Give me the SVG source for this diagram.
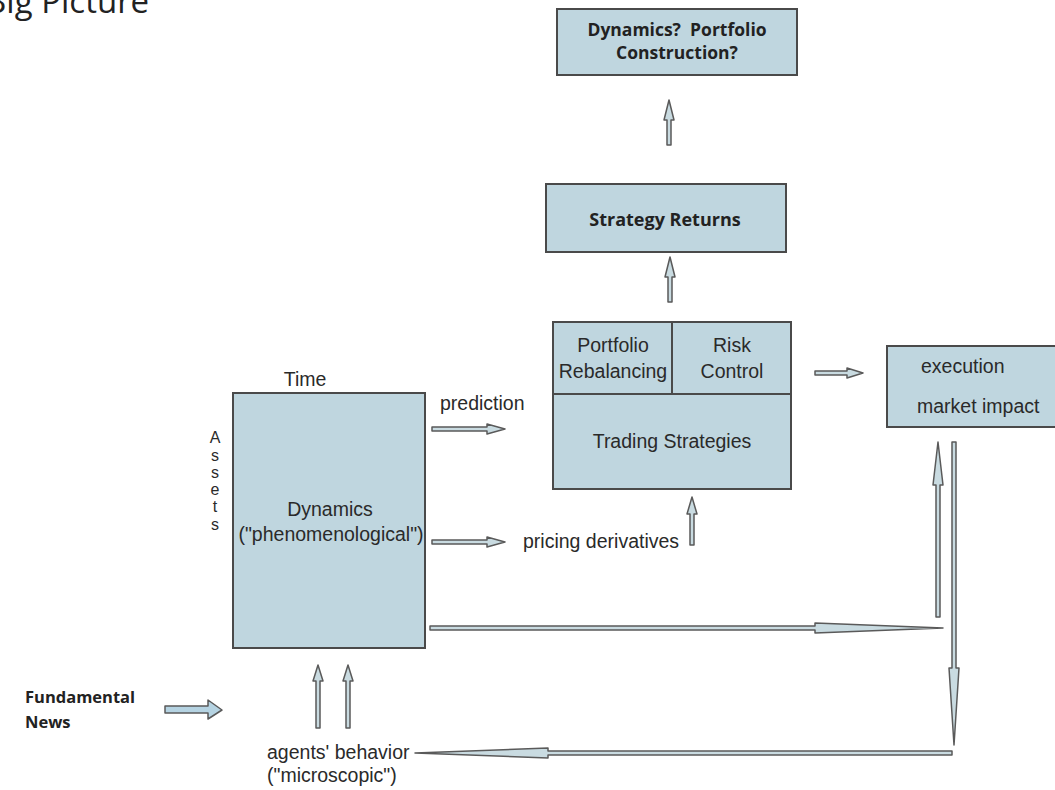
<svg xmlns="http://www.w3.org/2000/svg" width="1055" height="790" viewBox="0 0 1055 790">
<style>
.box{fill:#bfd6df;stroke:#4a4a4a;stroke-width:2}
.arr{fill:#c9dbe1;stroke:#5a5a5a;stroke-width:1.5;stroke-linejoin:round}
.bold{font-family:"Open Sans","Liberation Sans",sans-serif;font-weight:bold;fill:#222}
.t{font-family:"Liberation Sans",Arial,sans-serif;fill:#2a2a2a;font-size:19.5px}
.v{font-family:"Liberation Sans",Arial,sans-serif;fill:#2a2a2a;font-size:16px}
</style>
<rect width="1055" height="790" fill="#fff"/>
<text x="-15" y="13" style="font-family:'Open Sans','Liberation Sans',sans-serif;font-size:33px;fill:#222">Big Picture</text>

<g id="node-dyn-portfolio">
<rect class="box" x="557" y="9" width="240" height="66"/>
<text class="bold" x="677" y="36" font-size="17.5" text-anchor="middle" xml:space="preserve">Dynamics?  Portfolio</text>
<text class="bold" x="677" y="59" font-size="17.5" text-anchor="middle">Construction?</text>
</g>

<g id="node-strategy-returns">
<rect class="box" x="546" y="184" width="240" height="68"/>
<text class="bold" x="665" y="226" font-size="18" text-anchor="middle">Strategy Returns</text>
</g>

<g id="node-trading">
<rect class="box" x="553" y="322" width="238" height="167"/>
<line x1="553" y1="394" x2="791" y2="394" stroke="#4a4a4a" stroke-width="2"/>
<line x1="672" y1="322" x2="672" y2="394" stroke="#4a4a4a" stroke-width="2"/>
<text class="t" x="613" y="352" text-anchor="middle">Portfolio</text>
<text class="t" x="613" y="378" text-anchor="middle">Rebalancing</text>
<text class="t" x="732" y="352" text-anchor="middle">Risk</text>
<text class="t" x="732" y="378" text-anchor="middle">Control</text>
<text class="t" x="672" y="448" text-anchor="middle">Trading Strategies</text>
</g>

<g id="node-execution">
<rect class="box" x="887" y="346" width="170" height="81"/>
<text class="t" x="921" y="373">execution</text>
<text class="t" x="917" y="413">market impact</text>
</g>

<g id="node-dynamics">
<rect class="box" x="233" y="393" width="192" height="255"/>
<text class="t" x="305" y="386" text-anchor="middle">Time</text>
<text class="t" x="330" y="516" text-anchor="middle">Dynamics</text>
<text class="t" x="331" y="541" text-anchor="middle">("phenomenological")</text>
<g class="v" text-anchor="middle">
<text x="215" y="443">A</text>
<text x="215" y="461">s</text>
<text x="215" y="478">s</text>
<text x="215" y="495">e</text>
<text x="215" y="512">t</text>
<text x="215" y="530">s</text>
</g>
</g>

<g id="label-prediction"><text class="t" x="440" y="410">prediction</text></g>
<g id="label-pricing"><text class="t" x="523" y="548">pricing derivatives</text></g>
<g id="label-news">
<text class="bold" x="25" y="703" font-size="16.5">Fundamental</text>
<text class="bold" x="25" y="728" font-size="16.5">News</text>
</g>
<g id="label-agents">
<text class="t" x="267" y="759">agents' behavior</text>
<text class="t" x="267" y="782">("microscopic")</text>
</g>

<g id="connectors">
<polygon class="arr" points="667,145 667,120 664,120 669,100 674,120 671,120 671,145"/>
<polygon class="arr" points="668,302 668,277 665,277 670,257 675,277 672,277 672,302"/>
<polygon class="arr" points="815,371 847,371 847,368 863,373 847,378 847,375 815,375"/>
<polygon class="arr" points="432,427 487,427 487,424 505,429 487,434 487,431 432,431"/>
<polygon class="arr" points="432,540 487,540 487,537 505,542 487,547 487,544 432,544"/>
<polygon class="arr" points="690,545 690,514 687,514 692,497 697,514 694,514 694,545"/>
<polygon class="arr" points="430,626 815,626 815,623 943,628 815,633 815,630 430,630"/>
<polygon class="arr" points="936,617 936,485 933,485 938,442 943,485 940,485 940,617"/>
<polygon class="arr" points="952,442 956,442 956,668 959,668 954,745 949,668 952,668"/>
<polygon class="arr" points="952,751 952,755 548,755 548,758 415,753 548,748 548,751"/>
<polygon class="arr" points="316,728 316,681 313,681 318,665 323,681 320,681 320,728"/>
<polygon class="arr" points="346,728 346,681 343,681 348,665 353,681 350,681 350,728"/>
<polygon class="arr" style="fill:#b5d3e2" points="165,706 208,706 208,700 222,710 208,719 208,713 165,713"/>
</g>
</svg>
